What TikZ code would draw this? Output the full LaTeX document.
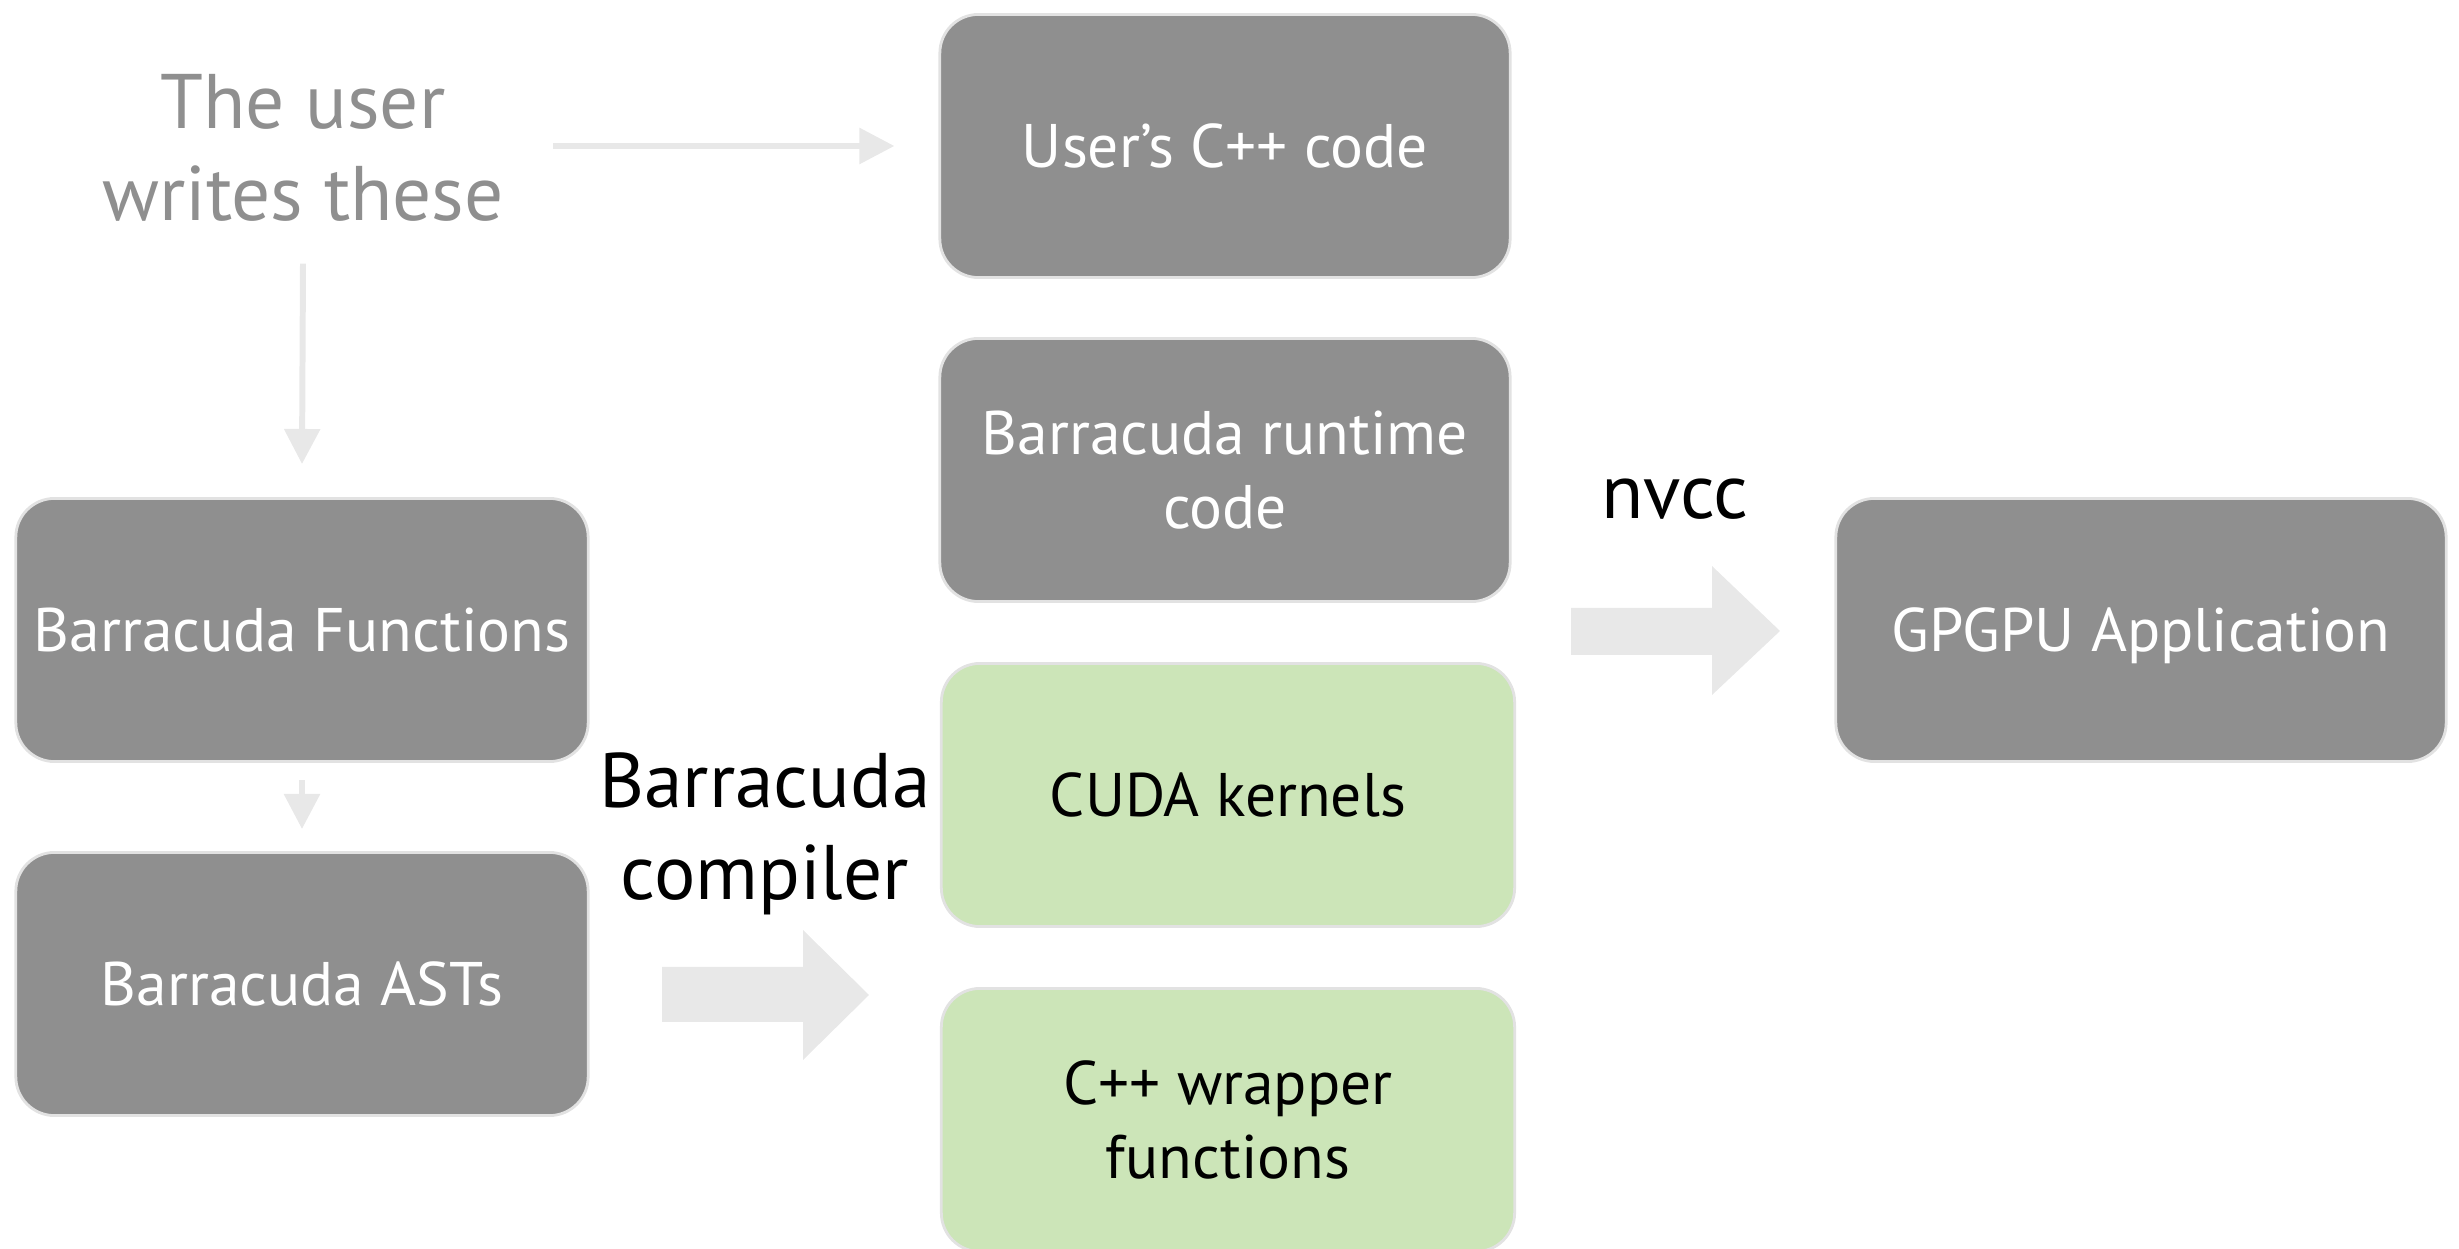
\documentclass[tikz,border=0pt]{standalone}
\usepackage{fontspec}
\setmainfont{PT Sans}
\usepackage{tikz}
\usetikzlibrary{arrows.meta}
\definecolor{boxgray}{RGB}{143,143,143}
\definecolor{boxedge}{RGB}{226,226,226}
\definecolor{boxgreen}{RGB}{204,229,184}
\definecolor{arrowgray}{RGB}{232,232,232}

\tikzset{
  graybox/.style={fill=boxgray,draw=boxedge,line width=0.8pt,rounded corners=11pt,
    text=white,align=center,minimum width=5.7cm,minimum height=2.63cm,
    font=\fontsize{17.5}{21}\selectfont},
  greenbox/.style={graybox,fill=boxgreen,text=black,minimum width=5.73cm},
  bigtext/.style={align=center,font=\fontsize{22}{26}\selectfont},
  thinarrow/.style={draw=arrowgray,line width=1.7pt,-{Triangle[length=0.35cm,width=0.35cm]}},
}

\begin{document}
\begin{tikzpicture}[x=0.01cm,y=-0.01cm]
\useasboundingbox (0,0) rectangle (2459,1249);

\node [bigtext,text=boxgray] (user) at (303,148) {The user\\writes these};

\node [graybox] (usercode) at (1225,146) {User’s C++ code};
\node [graybox] (runtime) at (1225,470) {Barracuda runtime\\code};
\node [greenbox] (cuda) at (1228,795) {CUDA kernels};
\node [greenbox] (wrapper) at (1228,1120) {C++ wrapper\\functions};

\node [graybox,minimum width=5.72cm] (func) at (302,630) {Barracuda Functions};
\node [graybox,minimum width=5.72cm] (ast) at (302,984) {Barracuda ASTs};
\node [graybox,minimum width=6.1cm,text depth=0pt] (gpgpu) at (2141,630) {GPGPU Application};

\node [bigtext] (compiler) at (765,834) {Barracuda\\compiler};
\node [bigtext] (nvcc) at (1675,499) {nvcc};

% thin arrows
\draw [thinarrow] ([xshift=0.37cm]user.east |- usercode.west) -- ([xshift=-0.44cm]usercode.west);
\draw [thinarrow] ([yshift=-0.3cm]user.south) -- ([yshift=0.33cm]func.north);
\draw [thinarrow] ([yshift=-0.17cm]func.south) -- ([yshift=0.22cm]ast.north);

% block arrows
\fill [arrowgray] (662,967) -- (803,967) -- (803,930) -- (869,995) -- (803,1060)
  -- (803,1022) -- (662,1022) -- cycle;
\fill [arrowgray] (1571,608) -- (1712,608) -- (1712,566) -- (1780,631) -- (1712,695)
  -- (1712,655) -- (1571,655) -- cycle;
\end{tikzpicture}
\end{document}
